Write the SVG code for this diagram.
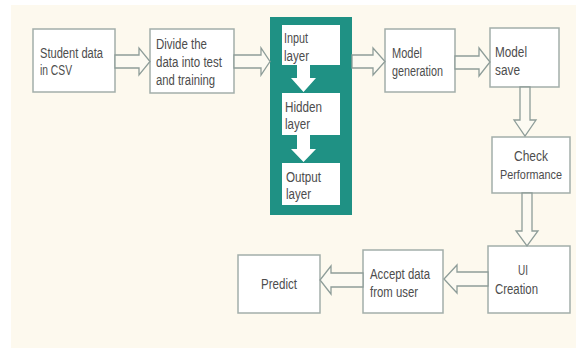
<svg xmlns="http://www.w3.org/2000/svg" width="576" height="348" viewBox="0 0 576 348">
<defs>
<style>
.bg{fill:#fdf9ee}
.box{fill:#ffffff;stroke:#a3aeaa;stroke-width:1.5}
.teal{fill:#1f9184}
.inner{fill:#ffffff}
.arr{fill:#fcfaf2;stroke:#8e9d99;stroke-width:1.3;stroke-linejoin:miter}
.warr{fill:#ffffff}
text{font-family:"Liberation Sans",Arial,sans-serif;font-size:14px;fill:#4d4d4d}
</style>
</defs>
<rect x="0" y="0" width="576" height="348" fill="#ffffff"/>
<rect class="bg" x="11" y="5" width="565" height="343"/>

<g id="student">
<rect class="box" x="33" y="29" width="82" height="63"/>
<text x="40" y="58" textLength="63" lengthAdjust="spacingAndGlyphs">Student data</text>
<text x="40" y="75" textLength="32" lengthAdjust="spacingAndGlyphs">in CSV</text>
</g>
<g id="divide">
<rect class="box" x="150" y="29" width="84" height="64"/>
<text x="156" y="49" textLength="51" lengthAdjust="spacingAndGlyphs">Divide the</text>
<text x="156" y="67" textLength="66" lengthAdjust="spacingAndGlyphs">data into test</text>
<text x="156" y="85" textLength="59" lengthAdjust="spacingAndGlyphs">and training</text>
</g>
<g id="network">
<rect class="teal" x="270" y="17" width="82" height="198"/>
</g>
<g id="input">
<rect class="inner" x="282" y="25" width="58" height="40"/>
<text x="284" y="43" textLength="24" lengthAdjust="spacingAndGlyphs">Input</text>
<text x="284" y="61" textLength="25" lengthAdjust="spacingAndGlyphs">layer</text>
</g>
<g id="hidden">
<rect class="inner" x="282" y="93" width="58" height="42"/>
<text x="285" y="112" textLength="37" lengthAdjust="spacingAndGlyphs">Hidden</text>
<text x="285" y="129" textLength="25" lengthAdjust="spacingAndGlyphs">layer</text>
</g>
<g id="output">
<rect class="inner" x="282" y="163" width="58" height="42"/>
<text x="286" y="182" textLength="35" lengthAdjust="spacingAndGlyphs">Output</text>
<text x="286" y="199" textLength="25" lengthAdjust="spacingAndGlyphs">layer</text>
</g>
<g id="modelgen">
<rect class="box" x="385" y="29" width="70" height="63"/>
<text x="392" y="58" textLength="30" lengthAdjust="spacingAndGlyphs">Model</text>
<text x="392" y="76" textLength="51" lengthAdjust="spacingAndGlyphs">generation</text>
</g>
<g id="modelsave">
<rect class="box" x="490" y="28" width="69" height="59"/>
<text x="495" y="57" textLength="32" lengthAdjust="spacingAndGlyphs">Model</text>
<text x="495" y="75" textLength="25" lengthAdjust="spacingAndGlyphs">save</text>
</g>
<g id="check">
<rect class="box" x="492" y="137" width="78" height="56"/>
<text x="531" y="161" text-anchor="middle" textLength="34" lengthAdjust="spacingAndGlyphs">Check</text>
<text x="531" y="179" text-anchor="middle" font-size="13" textLength="62" lengthAdjust="spacingAndGlyphs" style="font-size:13px">Performance</text>
</g>
<g id="ui">
<rect class="box" x="488" y="246" width="82" height="67"/>
<text x="523" y="275" text-anchor="middle" textLength="10" lengthAdjust="spacingAndGlyphs">UI</text>
<text x="495" y="294" textLength="43" lengthAdjust="spacingAndGlyphs">Creation</text>
</g>
<g id="accept">
<rect class="box" x="363" y="250" width="80" height="63"/>
<text x="370" y="279" textLength="60" lengthAdjust="spacingAndGlyphs">Accept data</text>
<text x="370" y="297" textLength="48" lengthAdjust="spacingAndGlyphs">from user</text>
</g>
<g id="predict">
<rect class="box" x="238" y="255" width="82" height="58"/>
<text x="261" y="289" textLength="36" lengthAdjust="spacingAndGlyphs">Predict</text>
</g>

<g id="connectors">
<polygon class="arr" points="115,55 139,55 139,48 150,61.5 139,75 139,68 115,68"/>
<polygon class="arr" points="234,55 261,55 261,48 270,61.5 261,75 261,68 234,68"/>
<polygon class="arr" points="352,55 373,55 373,48 385,61.5 373,75 373,68 352,68"/>
<polygon class="arr" points="455,56 479,56 479,48 490,62 479,76 479,69 455,69"/>
<polygon class="arr" points="520,87 530,87 530,120 536,120 525,136 514,120 520,120"/>
<polygon class="arr" points="522,193 532,193 532,231 538,231 527,246 516,231 522,231"/>
<polygon class="arr" points="488,272 457,272 457,265 444,279 457,293 457,286 488,286"/>
<polygon class="arr" points="363,273 331,273 331,266 320,280 331,294 331,287 363,287"/>
<polygon class="warr" points="297,65 310,65 310,78 316,78 303.5,92 291,78 297,78"/>
<polygon class="warr" points="297,135 310,135 310,149 316,149 303.5,162 291,149 297,149"/>
</g>
</svg>
